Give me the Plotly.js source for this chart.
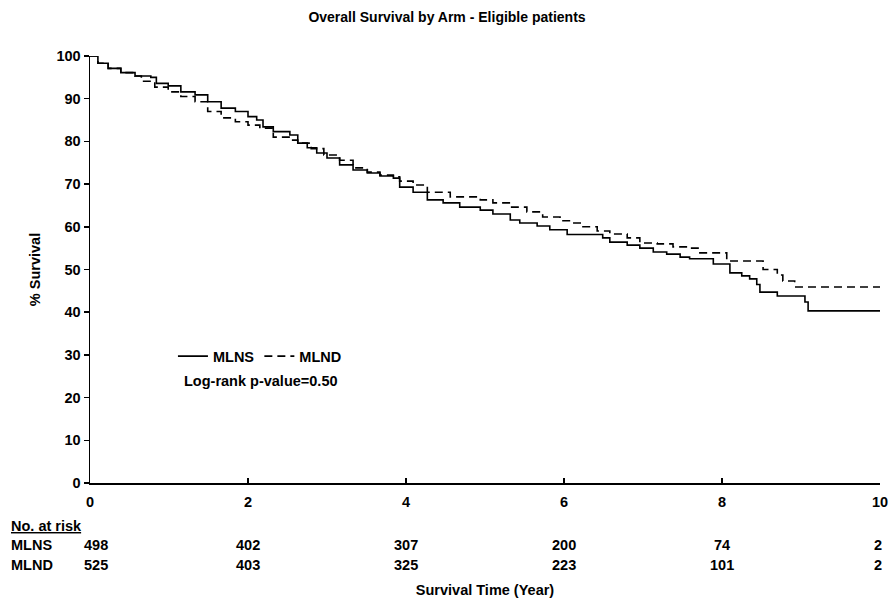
<!DOCTYPE html>
<html>
<head>
<meta charset="utf-8">
<script src="https://cdn.plot.ly/plotly-3.0.1.min.js"></script>
<style>html,body{margin:0;padding:0;background:#fff}#chart{width:894px;height:608px}</style>
</head>
<body>
<div id="chart"></div>
<script>
const mlnsTime = [0,0.10,0.23,0.39,0.57,0.77,0.84,0.99,1.15,1.33,1.49,1.66,1.84,2.0,2.11,2.19,2.32,2.53,2.63,2.75,2.87,3.0,3.16,3.33,3.51,3.67,3.84,3.92,4.09,4.27,4.47,4.68,4.94,5.1,5.32,5.44,5.66,5.82,6.04,6.49,6.58,6.8,6.96,7.13,7.3,7.47,7.59,7.89,8.1,8.25,8.35,8.44,8.48,8.7,9.05,9.09,10.0];
const mlnsSurv = [100,98.3,97.1,96.1,95.3,95.0,93.6,93.0,91.6,90.9,89.3,87.8,87.0,85.8,85.0,83.4,82.3,81.5,79.6,78.5,77.3,76.1,74.5,73.3,72.6,71.9,71.4,69.3,68.1,66.3,65.6,64.6,63.9,63.0,61.6,60.9,60.2,59.3,58.2,57.4,56.4,55.7,55.0,54.1,53.6,52.9,52.5,51.3,49.2,48.5,47.8,46.5,44.7,43.8,42.4,40.3,40.3];
const mlndTime = [0,0.10,0.23,0.39,0.57,0.65,0.82,0.99,1.15,1.33,1.49,1.66,1.84,2.0,2.15,2.32,2.53,2.63,2.8,2.96,3.16,3.33,3.51,3.67,3.84,3.92,4.09,4.27,4.56,4.94,5.1,5.32,5.53,5.73,5.95,6.08,6.24,6.42,6.58,6.8,6.96,7.18,7.38,7.59,7.72,8.06,8.52,8.7,8.77,8.92,10.0];
const mlndSurv = [100,98.3,97.1,96.1,95.3,94.1,92.7,91.6,90.5,89.3,87.0,85.5,84.6,83.8,83.1,81.0,80.3,79.6,78.3,76.8,75.6,73.8,72.8,72.1,71.7,70.7,69.8,68.1,67.0,66.3,65.6,64.6,63.5,62.3,61.4,60.9,60.0,59.0,58.3,57.4,56.2,56.0,55.3,55.0,53.9,52.0,50.0,48.7,47.3,45.9,45.9];

const riskTimes = [0,2,4,6,8,10];
const riskMLNS = [498,402,307,200,74,2];
const riskMLND = [525,403,325,223,101,2];

const F = 'Liberation Sans, Arial, sans-serif';
const FS = 14.5;
const traces = [
  {x: mlnsTime, y: mlnsSurv, mode:'lines', name:'MLNS', line:{shape:'hv', color:'#000', width:1.6}},
  {x: mlndTime, y: mlndSurv, mode:'lines', name:'MLND', line:{shape:'hv', color:'#000', width:1.6, dash:'8px,5px'}}
];

const ann = [];
const rowY = [-0.146, -0.193];
[riskMLNS, riskMLND].forEach((row, r) => {
  row.forEach((v, i) => {
    ann.push({xref:'x', yref:'paper', x: riskTimes[i], y: rowY[r], text: String(v), showarrow:false,
      xanchor: i === row.length-1 ? 'right' : 'center', xshift: i===0 ? 6 : (i===row.length-1 ? 4 : 0),
      yanchor:'middle', font:{family:F, size:FS, color:'#000', weight:'bold'}});
  });
});
ann.push({xref:'paper', yref:'paper', x:-0.103, y:-0.1, text:'<u>No. at risk</u>', showarrow:false, xanchor:'left', yanchor:'middle', font:{family:F, size:FS, color:'#000', weight:'bold'}});
ann.push({xref:'paper', yref:'paper', x:-0.103, y:rowY[0], text:'MLNS', showarrow:false, xanchor:'left', yanchor:'middle', font:{family:F, size:FS, color:'#000', weight:'bold'}});
ann.push({xref:'paper', yref:'paper', x:-0.103, y:rowY[1], text:'MLND', showarrow:false, xanchor:'left', yanchor:'middle', font:{family:F, size:FS, color:'#000', weight:'bold'}});
ann.push({xref:'paper', yref:'paper', x:0.117, y:0.239, text:'Log-rank p-value=0.50', showarrow:false, xanchor:'left', yanchor:'middle', font:{family:F, size:FS, color:'#000', weight:'bold'}});

const layout = {
  width:894, height:608,
  margin:{l:90, r:14, t:56, b:125},
  paper_bgcolor:'#fff', plot_bgcolor:'#fff',
  font:{family:F, size:FS, color:'#000'},
  title:{text:'Overall Survival by Arm - Eligible patients', x:0.5, xanchor:'center', y:0.972, yanchor:'middle', font:{family:F, size:14, color:'#000', weight:'bold'}},
  xaxis:{range:[0,10], tickvals:riskTimes, ticks:'inside', ticklen:5, tickwidth:1.5, tickcolor:'#000', showline:true, linecolor:'#000', linewidth:1.5, showgrid:false, zeroline:false, tickfont:{family:F, size:FS, weight:'bold'}, ticklabelstandoff:5,
    title:{text:'Survival Time (Year)', standoff:76, font:{family:F, size:FS, weight:'bold'}}},
  yaxis:{range:[0,100], dtick:10, ticks:'outside', ticklen:5, tickwidth:1.5, tickcolor:'#000', showline:true, linecolor:'#000', linewidth:1.5, showgrid:false, zeroline:false, tickfont:{family:F, size:FS, weight:'bold'},
    title:{text:'% Survival', standoff:12, font:{family:F, size:FS, weight:'bold'}}},
  showlegend:true,
  legend:{orientation:'h', x:0.105, y:0.297, xanchor:'left', yanchor:'middle', bgcolor:'rgba(0,0,0,0)', font:{family:F, size:FS, weight:'bold'}, itemwidth:30, tracegroupgap:0},
  annotations: ann
};
Plotly.newPlot('chart', traces, layout, {displayModeBar:false, staticPlot:true});
</script>
</body>
</html>
